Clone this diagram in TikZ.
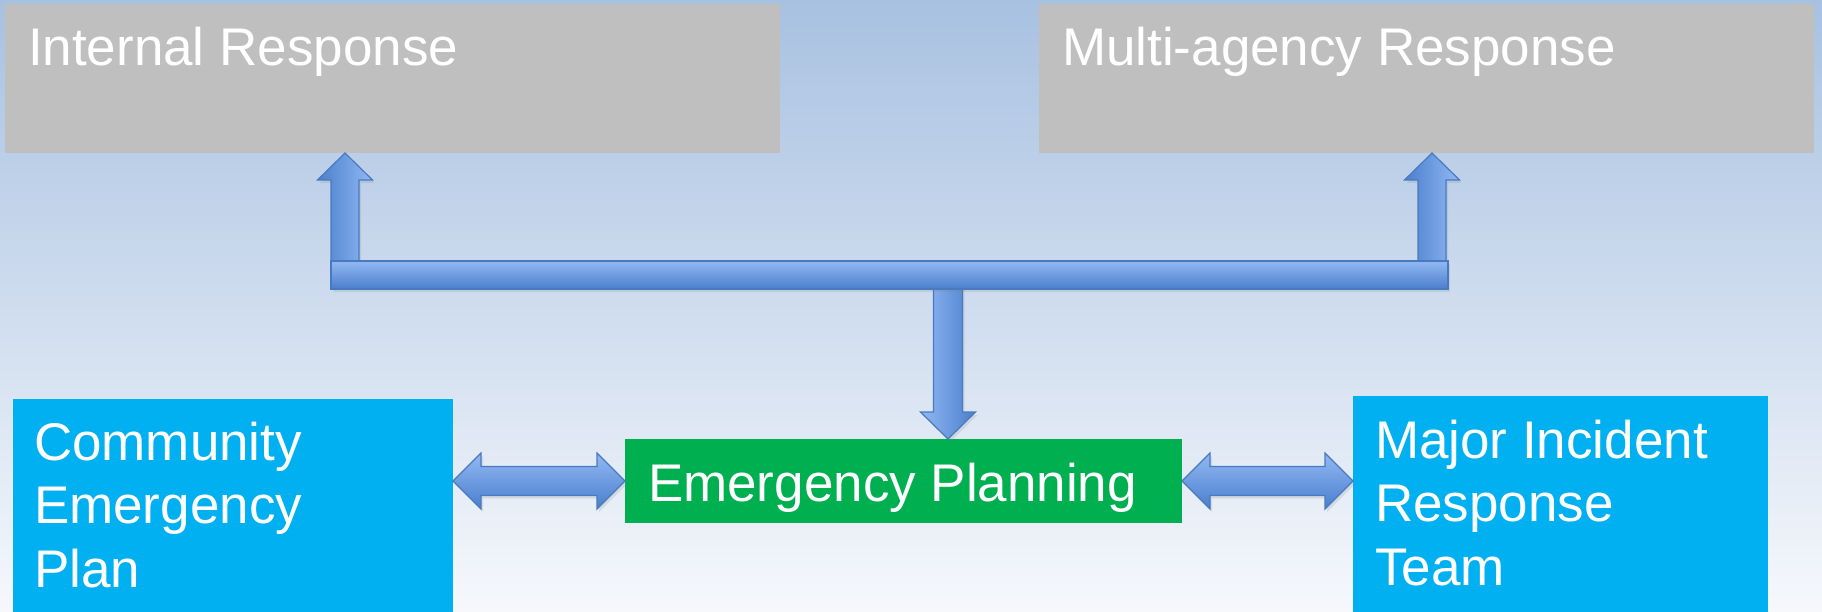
\documentclass[tikz,border=0pt]{standalone}
\usepackage{fontspec}
\setmainfont{Liberation Sans}
\usetikzlibrary{calc,shadows}
\definecolor{bgtop}{RGB}{168,193,225}
\definecolor{bgmid}{RGB}{214,224,239}
\definecolor{bgbot}{RGB}{246,248,252}
\definecolor{greyfill}{RGB}{191,191,191}
\definecolor{greenfill}{RGB}{0,176,80}
\definecolor{bluefill}{RGB}{0,176,240}
\definecolor{arrlight}{RGB}{146,184,244}
\definecolor{arrdark}{RGB}{74,127,204}
\definecolor{arrline}{RGB}{72,122,190}
\begin{document}
\begin{tikzpicture}[x=1pt,y=-1pt,
  box/.style={rectangle, draw=none, inner sep=0pt, outer sep=0pt, anchor=north west},
  boxtext/.style={anchor=base west, inner sep=0pt, outer sep=0pt, text=white,
    font=\fontsize{53}{63.5}\selectfont, align=left},
  blockarrow/.style={draw=arrline, line width=1.2pt, line join=miter,
    drop shadow={shadow xshift=2pt, shadow yshift=-3pt, opacity=0.18}},
  vlight/.style={left color=arrlight, right color=arrdark},
  vdark/.style={left color=arrdark, right color=arrlight},
  hshade/.style={top color=arrlight, bottom color=arrdark}
]
\useasboundingbox (0,0) rectangle (1822,612);
\shade[top color=bgtop, middle color=bgmid, bottom color=bgbot] (0,0) rectangle (1822,612);

% boxes
\node[box, fill=greyfill, minimum width=775pt, minimum height=149pt] (ir) at (5,4) {};
\node[boxtext] (irt) at ($(ir.north west)+(23,62)$) {Internal Response};

\node[box, fill=greyfill, minimum width=775pt, minimum height=149pt] (mr) at (1039,4) {};
\node[boxtext] (mrt) at ($(mr.north west)+(23,62)$) {Multi-agency Response};

\node[box, fill=greenfill, minimum width=557pt, minimum height=84pt] (ep) at (625,439) {};
\node[boxtext] (ept) at ($(ep.north west)+(23,62)$) {Emergency Planning};

\node[box, fill=bluefill, minimum width=440pt, minimum height=220pt] (cep) at (13,399) {};
\node[boxtext] (cept) at ($(cep.north west)+(21,188)$) {Community\\Emergency\\Plan};

\node[box, fill=bluefill, minimum width=415pt, minimum height=220pt] (mir) at (1353,396) {};
\node[boxtext] (mirt) at ($(mir.north west)+(22,189)$) {Major Incident\\Response\\Team};

% coordinates
\coordinate (ut1) at ($(ir.south west)+(340,0)$);
\coordinate (ut2) at ($(mr.south west)+(393,0)$);
\coordinate (dt) at ($(ep.north)+(44.5,0)$);
\coordinate (barnw) at (331,261);

% up arrows
\path[blockarrow, vdark] (ut1) -- ++(27.5,27) -- ++(-13.5,0) -- ($(ut1)+(14,118)$)
  -- ++(-28,0) -- ($(ut1)+(-14,27)$) -- ++(-13.5,0) -- cycle;
\path[blockarrow, vdark] (ut2) -- ++(27.5,27) -- ++(-13.5,0) -- ($(ut2)+(14,118)$)
  -- ++(-28,0) -- ($(ut2)+(-14,27)$) -- ++(-13.5,0) -- cycle;

% down arrow
\path[blockarrow, vlight] ($(dt)+(-14.5,-160)$) -- ($(dt)+(-14.5,-27)$) -- ++(-13,0)
  -- (dt) -- ($(dt)+(27.5,-27)$) -- ++(-13,0) -- ($(dt)+(14.5,-160)$) -- cycle;

% bar
\node[box, blockarrow, hshade, minimum width=1117pt, minimum height=28pt] (bar) at (barnw) {};

% double arrows
\coordinate (la) at (cep.east |- ep.west);
\coordinate (ra) at (ep.west);
\path[blockarrow, hshade] (la) -- ++(28,-28) -- ++(0,13.5) -- ($(ra)+(-28,-14.5)$)
  -- ++(0,-13.5) -- (ra) -- ++(-28,28) -- ++(0,-13.5) -- ($(la)+(28,14.5)$)
  -- ++(0,13.5) -- cycle;
\coordinate (lb) at (ep.east);
\coordinate (rb) at (mir.west |- ep.east);
\path[blockarrow, hshade] (lb) -- ++(28,-28) -- ++(0,13.5) -- ($(rb)+(-28,-14.5)$)
  -- ++(0,-13.5) -- (rb) -- ++(-28,28) -- ++(0,-13.5) -- ($(lb)+(28,14.5)$)
  -- ++(0,13.5) -- cycle;
\end{tikzpicture}
\end{document}
